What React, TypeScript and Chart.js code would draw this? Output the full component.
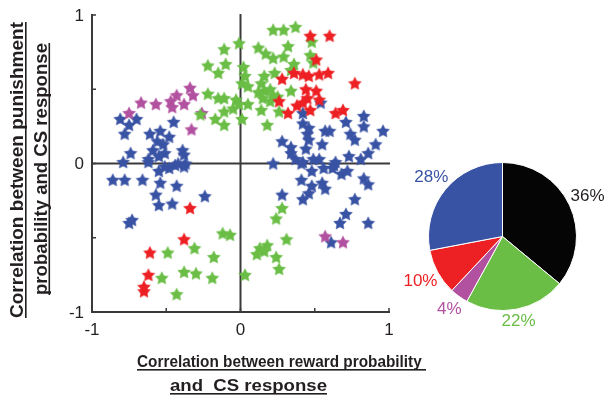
import React, { useEffect, useRef } from "react";
import { Chart, registerables } from "chart.js";

Chart.register(...registerables);

// ---------- data ----------
const xTickLabels = [-1, 0, 1];
const yTickLabels = [-1, 0, 1];
const minorTicks = [-0.5, 0.5];

const xTitleLines = ["Correlation between reward probability ", "and  CS response"];
const yTitleLines = ["Correlation between punishment", "probability and CS response"];

const bluePoints: number[][] = [
  [-0.81, 0.30], [-0.70, 0.30], [-0.75, 0.26], [-0.78, 0.20], [-0.45, 0.28], [-0.61, 0.20], [-0.54, 0.22],
  [-0.48, 0.18], [-0.56, 0.15], [-0.52, 0.13], [-0.59, 0.09], [-0.51, 0.07], [-0.55, 0.05], [-0.62, 0.03],
  [-0.39, 0.09], [-0.38, 0.06], [-0.74, 0.07], [-0.79, 0.01], [-0.42, 0.00], [-0.37, 0.00],
  [-0.62, 0.01], [-0.51, -0.02], [-0.44, -0.01], [-0.38, -0.02], [-0.86, -0.11], [-0.78, -0.11], [-0.66, -0.11],
  [-0.55, -0.05], [-0.54, -0.13], [-0.43, -0.15], [-0.57, -0.21], [-0.55, -0.28], [-0.46, -0.27], [-0.24, -0.22],
  [-0.75, -0.40], [-0.73, -0.38], [-0.48, -0.03],
  [0.54, 0.41], [0.42, 0.34], [0.83, 0.32], [0.71, 0.28], [0.83, 0.25], [0.96, 0.22], [0.42, 0.27], [0.46, 0.24],
  [0.45, 0.20], [0.57, 0.22], [0.60, 0.22], [0.74, 0.20], [0.77, 0.16], [0.28, 0.15], [0.46, 0.16], [0.55, 0.13],
  [0.34, 0.11], [0.44, 0.10], [0.91, 0.13], [0.86, 0.07], [0.34, 0.07], [0.37, 0.03], [0.73, 0.05], [0.81, 0.03],
  [0.49, 0.03], [0.53, 0.03], [0.42, 0.01], [0.22, 0.00], [0.64, 0.01],
  [0.41, 0.00], [0.48, -0.05], [0.56, -0.03], [0.63, -0.01], [0.62, -0.03], [0.68, -0.07], [0.72, -0.05],
  [0.83, -0.10], [0.86, -0.14], [0.41, -0.11], [0.48, -0.15], [0.55, -0.13], [0.57, -0.17], [0.46, -0.20],
  [0.42, -0.24], [0.28, -0.21], [0.77, -0.24], [0.71, -0.34], [0.67, -0.40], [0.86, -0.40], [0.61, -0.53],
];

const greenPoints: number[][] = [
  [0.22, 0.90], [0.29, 0.90], [0.37, 0.92], [0.48, 0.82], [0.12, 0.78], [0.17, 0.74], [0.32, 0.79], [0.22, 0.71],
  [0.29, 0.72], [0.36, 0.67], [0.47, 0.73], [0.49, 0.68], [-0.11, 0.77], [-0.01, 0.81], [-0.22, 0.66], [-0.10, 0.67],
  [-0.15, 0.61], [0.02, 0.65], [0.03, 0.59], [0.16, 0.59], [0.23, 0.61], [0.34, 0.63], [0.01, 0.54], [0.05, 0.52],
  [0.14, 0.54], [0.16, 0.49], [0.20, 0.50], [0.25, 0.45], [0.12, 0.48], [0.15, 0.44], [0.20, 0.42], [0.34, 0.49],
  [-0.22, 0.47], [-0.15, 0.44], [-0.11, 0.44], [-0.03, 0.43], [-0.05, 0.37], [-0.11, 0.35], [0.05, 0.40], [0.14, 0.36],
  [0.26, 0.35], [0.01, 0.30], [0.18, 0.26], [-0.17, 0.30], [-0.11, 0.26], [-0.27, 0.33], [-0.01, 0.40], [0.22, 0.46],
  [-0.12, -0.47], [-0.07, -0.48], [-0.31, -0.57], [-0.49, -0.60], [-0.18, -0.63], [-0.38, -0.73], [-0.30, -0.74],
  [-0.53, -0.77], [-0.19, -0.77], [-0.43, -0.88],
  [0.28, -0.30], [0.24, -0.37], [0.31, -0.51], [0.18, -0.55], [0.13, -0.57], [0.16, -0.59], [0.11, -0.61],
  [0.24, -0.63], [0.26, -0.71], [0.03, -0.75],
];

const redPoints: number[][] = [
  [0.47, 0.86], [0.60, 0.86], [0.51, 0.70], [0.28, 0.57], [0.36, 0.61], [0.42, 0.60], [0.46, 0.59], [0.53, 0.60],
  [0.59, 0.61], [0.77, 0.54], [0.44, 0.50], [0.51, 0.49], [0.45, 0.44], [0.53, 0.43], [0.26, 0.42], [0.38, 0.39],
  [0.42, 0.41], [0.47, 0.36], [0.32, 0.34], [0.64, 0.34], [0.69, 0.36],
  [-0.34, -0.30], [-0.38, -0.51], [-0.61, -0.60], [-0.62, -0.75], [-0.65, -0.83], [-0.65, -0.86],
];

const purplePoints: number[][] = [
  [-0.67, 0.41], [-0.57, 0.40], [-0.47, 0.42], [-0.46, 0.38], [-0.43, 0.46], [-0.34, 0.51], [-0.32, 0.46],
  [-0.38, 0.40], [-0.75, 0.34], [-0.26, 0.34], [-0.33, 0.23], [0.57, -0.49], [0.69, -0.53],
];

const pieLabels = ["36%", "22%", "4%", "10%", "28%"];
const pieValues = [36, 22, 4, 10, 28];

// ---------- styles ----------
const BLUE = "#3953a4";
const GREEN = "#6abd45";
const RED = "#ed2024";
const PURPLE = "#b2519f";
const BLACK = "#050505";
const TEXT = "#231f20";
const AXIS = "#3a3a3a";
const FONT = '"Liberation Sans", Arial, Helvetica, sans-serif';

const pieColors = [BLACK, GREEN, PURPLE, RED, BLUE];
const pieTextColors = [TEXT, GREEN, PURPLE, RED, BLUE];

function makeStar(color: string, R = 6.8): HTMLCanvasElement {
  const size = Math.ceil(R * 2 + 2);
  const c = document.createElement("canvas");
  c.width = size;
  c.height = size;
  const ctx = c.getContext("2d")!;
  ctx.translate(size / 2, size / 2 + 0.6);
  ctx.beginPath();
  for (let i = 0; i < 10; i++) {
    const r = i % 2 === 0 ? R : R * 0.5;
    const a = -Math.PI / 2 + (i * Math.PI) / 5;
    ctx.lineTo(r * Math.cos(a), r * Math.sin(a));
  }
  ctx.closePath();
  ctx.fillStyle = color;
  ctx.fill();
  ctx.strokeStyle = color;
  ctx.globalAlpha = 0.5;
  ctx.lineWidth = 0.8;
  ctx.stroke();
  return c;
}

// draws text squeezed/stretched horizontally to a target length, with underline
function fitText(ctx: CanvasRenderingContext2D, t: string, target: number) {
  const w = ctx.measureText(t).width;
  const s = target / w;
  ctx.save();
  ctx.scale(s, 1);
  ctx.fillText(t, 0, 0);
  ctx.restore();
  ctx.fillRect(0, 2, target, 1.6);
}

const axesPlugin = {
  id: "customAxes",
  beforeDatasetsDraw(chart: any) {
    const { ctx } = chart;
    const xs = chart.scales.x;
    const ys = chart.scales.y;
    const x0 = xs.getPixelForValue(-1);
    const x1 = xs.getPixelForValue(1);
    const xc = xs.getPixelForValue(0);
    const y0 = ys.getPixelForValue(-1);
    const y1 = ys.getPixelForValue(1);
    const yc = ys.getPixelForValue(0);
    ctx.save();
    ctx.strokeStyle = AXIS;
    ctx.lineWidth = 2;
    ctx.beginPath();
    ctx.moveTo(x0, y1 - 1);
    ctx.lineTo(x0, y0);
    ctx.lineTo(x1 + 1, y0);
    ctx.moveTo(xc, y1 - 1);
    ctx.lineTo(xc, y0);
    ctx.moveTo(x0, yc);
    ctx.lineTo(x1 + 1, yc);
    ctx.stroke();

    ctx.lineWidth = 1.5;
    ctx.beginPath();
    [...xTickLabels, ...minorTicks].forEach((v) => {
      const px = xs.getPixelForValue(v);
      ctx.moveTo(px, y0);
      ctx.lineTo(px, y0 - 4);
    });
    [...yTickLabels, ...minorTicks].forEach((v) => {
      const py = ys.getPixelForValue(v);
      ctx.moveTo(x0, py);
      ctx.lineTo(x0 + 4, py);
    });
    ctx.stroke();

    // tick labels
    ctx.fillStyle = TEXT;
    ctx.font = `17px ${FONT}`;
    ctx.textAlign = "right";
    ctx.textBaseline = "middle";
    yTickLabels.forEach((v) => {
      ctx.fillText(String(v), x0 - 8, ys.getPixelForValue(v) + 1);
    });
    ctx.textAlign = "center";
    xTickLabels.forEach((v) => {
      ctx.fillText(String(v), xs.getPixelForValue(v), y0 + 18);
    });

    // x title (underlined)
    ctx.font = `bold 16.5px ${FONT}`;
    ctx.textAlign = "left";
    ctx.textBaseline = "alphabetic";
    const xLines = [
      { t: xTitleLines[0], x: 137, y: 367, w: 289 },
      { t: xTitleLines[1], x: 170, y: 391, w: 157 },
    ];
    xLines.forEach((l) => {
      ctx.save();
      ctx.translate(l.x, l.y);
      fitText(ctx, l.t, l.w);
      ctx.restore();
    });

    // y title (rotated, underlined)
    ctx.font = `bold 17.5px ${FONT}`;
    const yLines = [
      { t: yTitleLines[0], x: 23, y: 318, w: 296 },
      { t: yTitleLines[1], x: 46.5, y: 295, w: 252 },
    ];
    yLines.forEach((l) => {
      ctx.save();
      ctx.translate(l.x, l.y);
      ctx.rotate(-Math.PI / 2);
      fitText(ctx, l.t, l.w);
      ctx.restore();
    });
    ctx.restore();
  },
};

const pieLabelPlugin = {
  id: "pieLabels",
  afterDraw(chart: any) {
    const meta = chart.getDatasetMeta(0);
    const ctx = chart.ctx;
    ctx.save();
    ctx.font = `17px ${FONT}`;
    ctx.textAlign = "center";
    ctx.textBaseline = "middle";
    meta.data.forEach((arc: any, i: number) => {
      const { x, y, startAngle, endAngle, outerRadius } = arc.getProps(
        ["x", "y", "startAngle", "endAngle", "outerRadius"],
        true
      );
      const mid = (startAngle + endAngle) / 2;
      const r = outerRadius + 10 + 11 * Math.abs(Math.cos(mid));
      ctx.fillStyle = pieTextColors[i];
      ctx.fillText(pieLabels[i], x + Math.cos(mid) * r, y + Math.sin(mid) * r);
    });
    ctx.restore();
  },
};

export default function App() {
  const scRef = useRef<HTMLCanvasElement>(null);
  const pieRef = useRef<HTMLCanvasElement>(null);

  useEffect(() => {
    Chart.defaults.font.family = FONT;
    const toXY = (arr: number[][]) => arr.map(([x, y]) => ({ x, y }));
    const mk = (label: string, pts: number[][], color: string, order: number) => ({
      label,
      data: toXY(pts),
      pointStyle: makeStar(color) as any,
      pointRadius: 6,
      backgroundColor: color,
      borderColor: color,
      showLine: false,
      clip: false as any,
      order,
    });

    const scatter = new Chart(scRef.current!, {
      type: "scatter",
      data: {
        datasets: [
          mk("blue", bluePoints, BLUE, 4),
          mk("purple", purplePoints, PURPLE, 3),
          mk("green", greenPoints, GREEN, 2),
          mk("red", redPoints, RED, 1),
        ],
      },
      options: {
        animation: false,
        responsive: false,
        maintainAspectRatio: false,
        events: [],
        layout: { padding: { left: 92, right: 219, top: 15, bottom: 88 } },
        scales: {
          x: { type: "linear", min: -1, max: 1, display: false },
          y: { type: "linear", min: -1, max: 1, display: false },
        },
        plugins: { legend: { display: false }, tooltip: { enabled: false } },
      },
      plugins: [axesPlugin],
    });

    const pie = new Chart(pieRef.current!, {
      type: "pie",
      data: {
        labels: pieLabels,
        datasets: [
          {
            data: pieValues,
            backgroundColor: pieColors,
            borderColor: "#ffffff",
            borderWidth: 1,
          },
        ],
      },
      options: {
        animation: false,
        responsive: false,
        maintainAspectRatio: false,
        events: [],
        layout: { padding: { left: 48, right: 31, top: 22, bottom: 29 } },
        plugins: { legend: { display: false }, tooltip: { enabled: false } },
      },
      plugins: [pieLabelPlugin],
    });

    return () => {
      scatter.destroy();
      pie.destroy();
    };
  }, []);

  return (
    <div style={{ position: "fixed", left: 0, top: 0, width: 608, height: 400, background: "#ffffff" }}>
      <canvas
        ref={scRef}
        width={608}
        height={400}
        style={{ position: "absolute", left: 0, top: 0, width: 608, height: 400 }}
      />
      <canvas
        ref={pieRef}
        width={228}
        height={200}
        style={{ position: "absolute", left: 380, top: 140, width: 228, height: 200 }}
      />
    </div>
  );
}
